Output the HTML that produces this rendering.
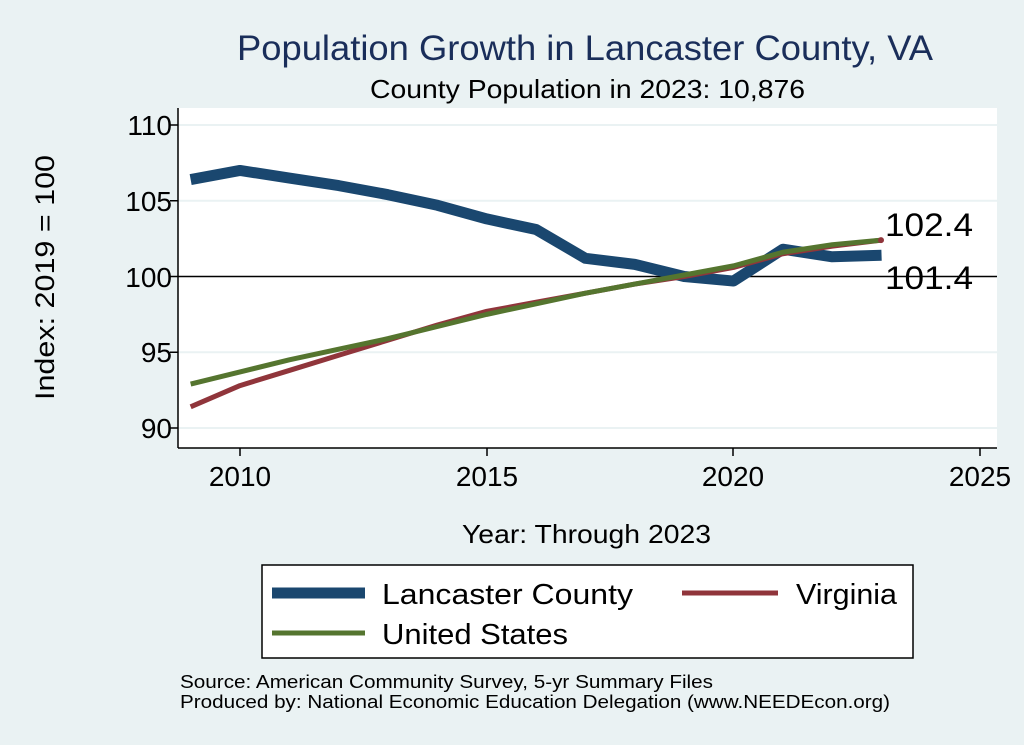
<!DOCTYPE html>
<html><head><meta charset="utf-8"><style>
html,body{margin:0;padding:0;background:#eaf2f3;}
svg{display:block;font-family:"Liberation Sans",sans-serif;}
</style></head><body>
<svg width="1024" height="745" viewBox="0 0 1024 745" xmlns="http://www.w3.org/2000/svg">
<rect width="1024" height="745" fill="#eaf2f3"/>
<text x="237" y="60" font-size="35" fill="#1a2e5a" textLength="696" lengthAdjust="spacingAndGlyphs">Population Growth in Lancaster County, VA</text>
<text x="370" y="98" font-size="26" fill="#000" textLength="435" lengthAdjust="spacingAndGlyphs">County Population in 2023: 10,876</text>
<rect x="178" y="108" width="819" height="340" fill="#fff"/>
<g stroke="#eaf2f3" stroke-width="2">
<line x1="178" x2="997" y1="125" y2="125"/>
<line x1="178" x2="997" y1="200.75" y2="200.75"/>
<line x1="178" x2="997" y1="352.25" y2="352.25"/>
<line x1="178" x2="997" y1="428" y2="428"/>
</g>
<line x1="178" x2="997" y1="276.5" y2="276.5" stroke="#000" stroke-width="1.5"/>
<g stroke="#000" stroke-width="1.5">
<line x1="178" x2="178" y1="108" y2="448"/>
<line x1="178" x2="997" y1="448" y2="448"/>
<line x1="170" x2="178" y1="125" y2="125"/><line x1="170" x2="178" y1="200.75" y2="200.75"/><line x1="170" x2="178" y1="276.5" y2="276.5"/><line x1="170" x2="178" y1="352.25" y2="352.25"/><line x1="170" x2="178" y1="428" y2="428"/>
<line x1="240" x2="240" y1="448" y2="456"/><line x1="487" x2="487" y1="448" y2="456"/><line x1="733" x2="733" y1="448" y2="456"/><line x1="980" x2="980" y1="448" y2="456"/>
</g>
<g font-size="28" text-anchor="end">
<text x="172" y="135">110</text><text x="172" y="211">105</text><text x="172" y="287">100</text><text x="172" y="362">95</text><text x="172" y="438">90</text>
</g>
<g font-size="28" text-anchor="middle">
<text x="240" y="486">2010</text><text x="487" y="486">2015</text><text x="733" y="486">2020</text><text x="980" y="486">2025</text>
</g>
<text x="462" y="543" font-size="26" textLength="249" lengthAdjust="spacingAndGlyphs">Year: Through 2023</text>
<text transform="translate(54,400) rotate(-90)" font-size="27" textLength="245" lengthAdjust="spacingAndGlyphs">Index: 2019 = 100</text>
<g transform="translate(240,276.5) scale(49.35,-15.15) translate(-2010,-100)" fill="none" stroke-linejoin="round">
<polyline vector-effect="non-scaling-stroke" stroke="#1a476f" stroke-width="11" points="2009,106.4 2010,107 2011,106.5 2012,106 2013,105.4 2014,104.7 2015,103.8 2016,103.1 2017,101.2 2018,100.8 2019,100 2020,99.7 2021,101.8 2022,101.3 2023,101.4"/>
<polyline vector-effect="non-scaling-stroke" stroke="#90353b" stroke-width="5" points="2009,91.4 2010,92.8 2011,93.8 2012,94.8 2013,95.8 2014,96.8 2015,97.7 2016,98.3 2017,98.9 2018,99.5 2019,100 2020,100.6 2021,101.5 2022,102 2023,102.4"/>
<polyline vector-effect="non-scaling-stroke" stroke="#55752f" stroke-width="5" points="2009,92.9 2010,93.7 2011,94.5 2012,95.2 2013,95.9 2014,96.7 2015,97.5 2016,98.2 2017,98.9 2018,99.5 2019,100.1 2020,100.7 2021,101.6 2022,102.1 2023,102.4"/>
</g>
<circle cx="881" cy="240.1" r="3" fill="#90353b"/>
<text x="885" y="236" font-size="32" textLength="88" lengthAdjust="spacingAndGlyphs">102.4</text>
<text x="885" y="289" font-size="32" textLength="88" lengthAdjust="spacingAndGlyphs">101.4</text>
<rect x="262" y="565" width="651" height="93" fill="#fff" stroke="#000" stroke-width="1.5"/>
<line x1="272" x2="365" y1="593" y2="593" stroke="#1a476f" stroke-width="11"/>
<text x="382" y="604" font-size="29" textLength="251" lengthAdjust="spacingAndGlyphs">Lancaster  County</text>
<line x1="682" x2="778" y1="593" y2="593" stroke="#90353b" stroke-width="5"/>
<text x="796" y="604" font-size="29" textLength="101" lengthAdjust="spacingAndGlyphs">Virginia</text>
<line x1="272" x2="365" y1="633" y2="633" stroke="#55752f" stroke-width="5"/>
<text x="382" y="644" font-size="29" textLength="186" lengthAdjust="spacingAndGlyphs">United States</text>
<text x="180" y="688" font-size="18" textLength="533" lengthAdjust="spacingAndGlyphs">Source: American Community Survey, 5-yr Summary Files</text>
<text x="180" y="708" font-size="18" textLength="710" lengthAdjust="spacingAndGlyphs">Produced by: National Economic Education Delegation (www.NEEDEcon.org)</text>
</svg>
</body></html>
